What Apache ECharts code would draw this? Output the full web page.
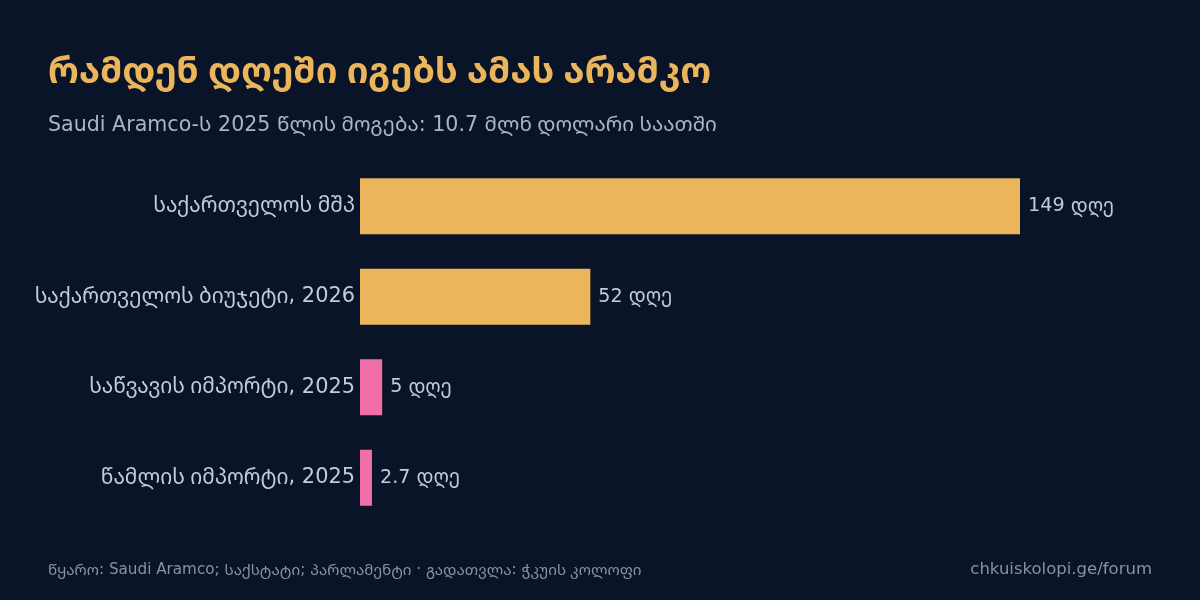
<!DOCTYPE html>
<html>
<head>
<meta charset="utf-8">
<script src="https://cdn.jsdelivr.net/npm/echarts@6/dist/echarts.min.js"></script>
<style>
  html, body { margin: 0; padding: 0; background: #0a1428; }
  #main { width: 1200px; height: 600px; }
</style>
</head>
<body>
<div id="main"></div>
<script>
var categories = [
  "საქართველოს მშპ",
  "საქართველოს ბიუჯეტი, 2026",
  "საწვავის იმპორტი, 2025",
  "წამლის იმპორტი, 2025"
];
var days = [149, 52, 5, 2.7];
var groups = ["georgia", "georgia", "import", "import"];

var palette = { georgia: "#ebb55c", import: "#f06fa9" };
var latinFont = "DejaVu Sans";
var geoFont = "Noto Sans Georgian";

// georgian runs go to Noto Sans Georgian, everything else to DejaVu Sans
function mix(str) {
  var parts = str.split(/([\u10A0-\u10FF\u1C90-\u1CBF]+(?:\s+[\u10A0-\u10FF\u1C90-\u1CBF]+)*)/);
  var out = "";
  parts.forEach(function (p) {
    if (!p) return;
    out += /[\u10A0-\u10FF]/.test(p) ? "{g|" + p + "}" : "{l|" + p + "}";
  });
  return out;
}
function rich(size, color, weight) {
  return {
    g: { fontFamily: geoFont, fontSize: size, color: color, fontWeight: weight || "normal" },
    l: { fontFamily: latinFont, fontSize: size, color: color, fontWeight: weight || "normal" }
  };
}

var chartDom = document.getElementById("main");
var myChart = echarts.init(chartDom);
var option;

option = {
  backgroundColor: "#0a1428",
  animation: false,
  title: [
    {
      text: mix("რამდენ დღეში იგებს ამას არამკო"),
      left: 48,
      top: 55,
      padding: 0,
      textStyle: { rich: rich(36, "#ebb55c", "bold") }
    },
    {
      text: mix("Saudi Aramco-ს 2025 წლის მოგება: 10.7 მლნ დოლარი საათში"),
      left: 48,
      top: 115,
      padding: 0,
      textStyle: { rich: rich(20.6, "#a9b5c8") }
    },
    {
      text: mix("წყარო: Saudi Aramco; საქსტატი; პარლამენტი · გადათვლა: ჭკუის კოლოფი"),
      left: 48,
      top: 563,
      padding: 0,
      textStyle: { rich: rich(15.2, "#8592a8") }
    },
    {
      text: "chkuiskolopi.ge/forum",
      right: 48,
      top: 561,
      padding: 0,
      textStyle: { color: "#8592a8", fontFamily: latinFont, fontSize: 16.5, fontWeight: "normal" }
    }
  ],
  grid: { left: 360, right: 180, top: 161, bottom: 77, containLabel: false },
  xAxis: {
    type: "value",
    min: 0,
    max: 149,
    show: false
  },
  yAxis: {
    type: "category",
    inverse: true,
    data: categories,
    axisLine: { show: false },
    axisTick: { show: false },
    splitLine: { show: false },
    axisLabel: {
      margin: 5,
      formatter: function (v) { return mix(v); },
      rich: rich(20.9, "#c3cbd8")
    }
  },
  series: [
    {
      type: "bar",
      barWidth: 56,
      data: days.map(function (v, i) {
        return { value: v, itemStyle: { color: palette[groups[i]] } };
      }),
      label: {
        show: true,
        position: "right",
        distance: 8,
        formatter: function (p) { return mix(p.value + " დღე"); },
        rich: rich(19.2, "#c3cbd8")
      }
    }
  ]
};

option && myChart.setOption(option);
</script>
</body>
</html>
